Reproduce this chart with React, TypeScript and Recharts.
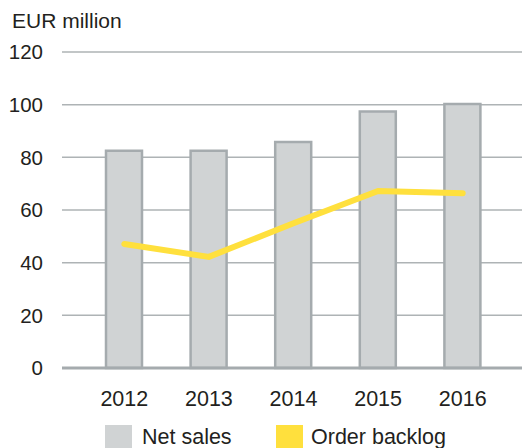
import {
  Bar,
  CartesianGrid,
  ComposedChart,
  Legend,
  Line,
  XAxis,
  YAxis,
} from "recharts";

const years = ["2012", "2013", "2014", "2015", "2016"];
const netSales = [82.5, 82.5, 85.8, 97.4, 100.3];
const orderBacklog = [47.1, 42.2, 55, 67.2, 66.4];
const yTicks = [0, 20, 40, 60, 80, 100, 120];

const data = years.map((year, i) => ({
  year,
  netSales: netSales[i],
  orderBacklog: orderBacklog[i],
}));

const FONT = '"Liberation Sans", Arial, Helvetica, sans-serif';
const TEXT = "#231F20";
const BAR_FILL = "#D0D3D4";
const BAR_STROKE = "#A5ABAE";
const GRID = "#AEB3B5";
const YELLOW = "#FFE03D";

function LegendContent() {
  const items = [
    { label: "Net sales", color: BAR_FILL, box: 105, text: 142 },
    { label: "Order backlog", color: YELLOW, box: 276, text: 311 },
  ];
  return (
    <div style={{ position: "relative", width: 522, height: 24 }}>
      {items.map((it) => (
        <div key={it.label}>
          <div
            style={{
              position: "absolute",
              left: it.box,
              top: 1,
              width: 27,
              height: 28,
              background: it.color,
            }}
          />
          <span
            style={{
              position: "absolute",
              left: it.text,
              top: 3,
              fontSize: 21.5,
              lineHeight: "21px",
              whiteSpace: "nowrap",
              color: TEXT,
              fontFamily: FONT,
            }}
          >
            {it.label}
          </span>
        </div>
      ))}
    </div>
  );
}

export default function App() {
  return (
    <div
      style={{
        position: "absolute",
        left: 0,
        top: 0,
        width: 522,
        height: 448,
        overflow: "hidden",
        background: "#fff",
        fontFamily: FONT,
      }}
    >
      <div
        style={{
          position: "absolute",
          left: 12,
          top: 10,
          fontSize: 21,
          lineHeight: "21px",
          color: TEXT,
          whiteSpace: "nowrap",
        }}
      >
        EUR million
      </div>
      <ComposedChart
        width={522}
        height={448}
        data={data}
        margin={{ top: 52, right: 0, left: 0, bottom: 0 }}
      >
        <CartesianGrid vertical={false} stroke={GRID} strokeWidth={1.5} />
        <XAxis
          dataKey="year"
          height={56}
          padding={{ left: 20, right: 17 }}
          tickLine={false}
          tickSize={0}
          tickMargin={23}
          axisLine={{ stroke: BAR_STROKE, strokeWidth: 3 }}
          tick={{ fill: TEXT, fontSize: 21.5, fontFamily: FONT }}
        />
        <YAxis
          width={62}
          domain={[0, 120]}
          ticks={yTicks}
          axisLine={false}
          tickLine={false}
          tickSize={0}
          tickMargin={19}
          tick={{ fill: TEXT, fontSize: 20.5, fontFamily: FONT }}
        />
        <Bar
          dataKey="netSales"
          name="Net sales"
          fill={BAR_FILL}
          stroke={BAR_STROKE}
          strokeWidth={2.5}
          barSize={36}
          isAnimationActive={false}
        />
        <Line
          dataKey="orderBacklog"
          name="Order backlog"
          type="linear"
          stroke={YELLOW}
          strokeWidth={6}
          strokeLinecap="round"
          dot={false}
          activeDot={false}
          isAnimationActive={false}
        />
        <Legend
          verticalAlign="bottom"
          height={24}
          content={() => <LegendContent />}
          wrapperStyle={{ top: 424, left: 0, bottom: "auto", width: 522 }}
        />
      </ComposedChart>
    </div>
  );
}
